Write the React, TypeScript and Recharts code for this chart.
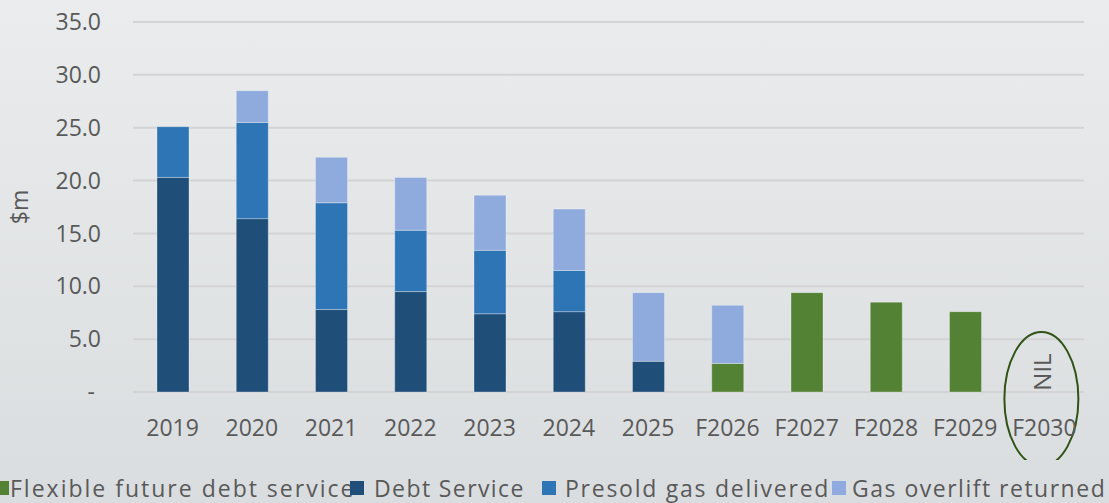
import React from 'react';
import { BarChart, Bar, XAxis, YAxis, CartesianGrid, ReferenceDot, Label } from 'recharts';

const categories = ['2019', '2020', '2021', '2022', '2023', '2024', '2025', 'F2026', 'F2027', 'F2028', 'F2029', 'F2030'];
const flexibleFuture = [null, null, null, null, null, null, null, 2.7, 9.4, 8.5, 7.6, null];
const debtService = [20.3, 16.4, 7.8, 9.5, 7.4, 7.6, 2.9, null, null, null, null, null];
const presoldGas = [4.8, 9.1, 10.1, 5.8, 6.0, 3.9, null, null, null, null, null, null];
const gasOverlift = [null, 3.0, 4.3, 5.0, 5.2, 5.8, 6.5, 5.5, null, null, null, null];
const yTicks = [0, 5, 10, 15, 20, 25, 30, 35];

const series = [
  { key: 'flexible', name: 'Flexible future debt service', color: '#548235', values: flexibleFuture },
  { key: 'debt', name: 'Debt Service', color: '#1f4e79', values: debtService },
  { key: 'presold', name: 'Presold gas delivered', color: '#2e75b6', values: presoldGas },
  { key: 'overlift', name: 'Gas overlift returned', color: '#8faadc', values: gasOverlift },
];

const data = categories.map((c, i) => {
  const row: any = { cat: c };
  series.forEach((s) => { row[s.key] = s.values[i]; });
  return row;
});

const FONT = '"Open Sans", sans-serif';
const TEXT = '#595959';

const YTick = (props: any) => {
  const { x, y, payload } = props;
  const v = payload.value;
  return (
    <text x={v === 0 ? x - 6 : x} y={y} dy="0.355em" textAnchor="end" fill={TEXT} fontSize={23} fontFamily={FONT}>
      {v === 0 ? '-' : v.toFixed(1)}
    </text>
  );
};

const NilMark = (props: any) => {
  const { cx, cy } = props;
  if (cx == null || cy == null) return null;
  return (
    <g>
      <ellipse cx={cx - 3} cy={cy + 7} rx={37} ry={67} fill="none" stroke="#2f5314" strokeWidth={2} />
      <text x={cx - 3} y={cy - 20} transform={`rotate(-90 ${cx - 3} ${cy - 20})`} textAnchor="middle" dominantBaseline="central" fill={TEXT} fontSize={24} fontFamily={FONT}>NIL</text>
    </g>
  );
};

const legendPos = [
  { sq: -5, tx: 10, ls: 2.0 },
  { sq: 350, tx: 374, ls: 1.4 },
  { sq: 542, tx: 565, ls: 1.75 },
  { sq: 832, tx: 852, ls: 1.5 },
];

export default function App() {
  return (
    <div style={{ position: 'fixed', left: 0, top: 0, width: 1109, height: 503, background: 'linear-gradient(#eaeced, #dadddf)', fontFamily: FONT, overflow: 'hidden' }}>
      <BarChart width={1109} height={460} data={data} margin={{ top: 22, right: 25, bottom: 28, left: 0 }}>
        <CartesianGrid vertical={false} stroke="#d3d3d6" strokeWidth={2} />
        <XAxis dataKey="cat" axisLine={false} tickLine={false} tickSize={6} tickMargin={22} height={40} interval={0}
          tick={{ fill: TEXT, fontSize: 23, fontFamily: FONT }} />
        <YAxis width={133} domain={[0, 35]} ticks={yTicks} axisLine={false} tickLine={false} tickSize={6} tickMargin={26} tick={<YTick />}>
          <Label content={(p: any) => {
            const vb = p.viewBox || {};
            const cx = 19;
            const cy = vb.y + vb.height / 2;
            return (
              <text x={cx} y={cy} transform={`rotate(-90 ${cx} ${cy})`} textAnchor="middle" dominantBaseline="central" fill={TEXT} fontSize={23} fontFamily={FONT}>$m</text>
            );
          }} />
        </YAxis>
        {series.map((s) => (
          <Bar key={s.key} dataKey={s.key} name={s.name} stackId="a" fill={s.color} barSize={32}
            stroke="rgba(255,255,255,0.3)" strokeWidth={1} isAnimationActive={false} />
        ))}
        <ReferenceDot x="F2030" y={0} shape={<NilMark />} ifOverflow="visible" />
      </BarChart>
      {series.map((s, i) => (
        <React.Fragment key={s.key}>
          <div style={{ position: 'absolute', left: legendPos[i].sq, top: 481, width: 14, height: 14, background: s.color }} />
          <div style={{ position: 'absolute', left: legendPos[i].tx, top: 473, fontSize: 23, lineHeight: '30px', color: TEXT, letterSpacing: legendPos[i].ls, whiteSpace: 'nowrap' }}>{s.name}</div>
        </React.Fragment>
      ))}
    </div>
  );
}
